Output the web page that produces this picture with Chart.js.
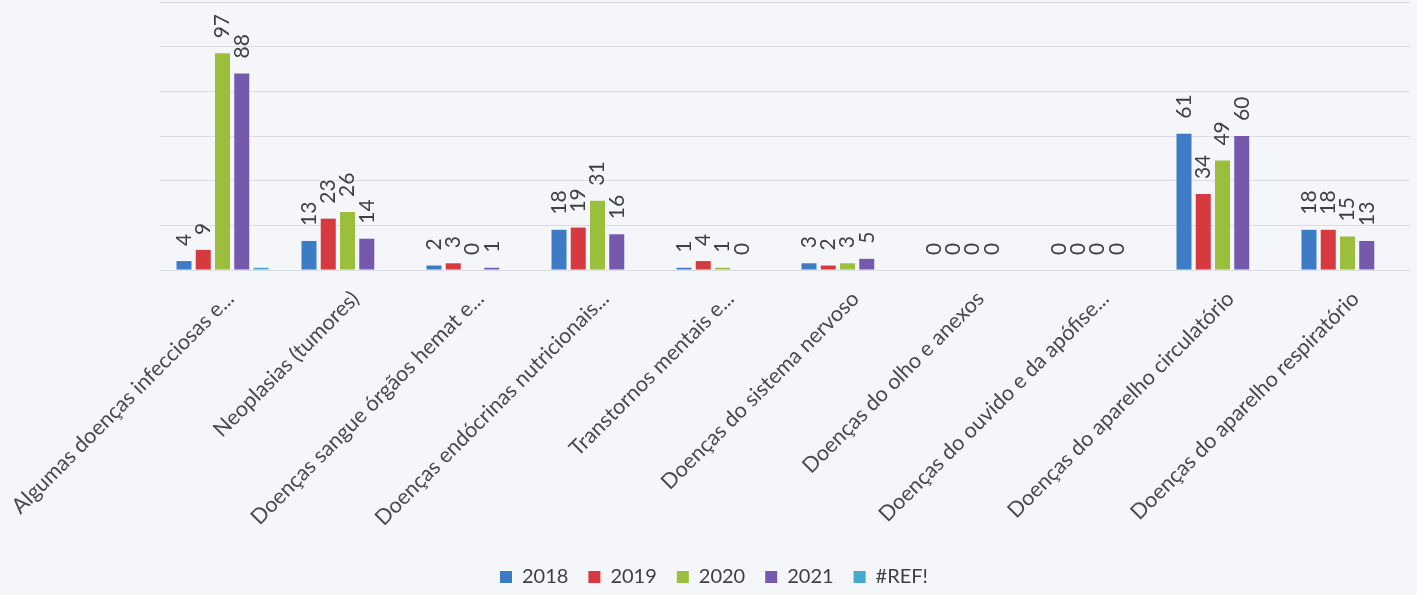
<!DOCTYPE html>
<html><head><meta charset="utf-8">
<script src="https://cdn.jsdelivr.net/npm/chart.js@4.4.1/dist/chart.umd.min.js"></script>
<style>html,body{margin:0;padding:0;background:#f4f6fa;} #wrap{width:1417px;height:595px;}</style>
</head><body><div id="wrap"><canvas id="c" width="1417" height="595"></canvas></div>
<script>
const categories = [
  "Algumas doenças infecciosas e...",
  "Neoplasias (tumores)",
  "Doenças sangue órgãos hemat e...",
  "Doenças endócrinas nutricionais...",
  "Transtornos mentais e...",
  "Doenças do sistema nervoso",
  "Doenças do olho e anexos",
  "Doenças do ouvido e da apófise...",
  "Doenças do aparelho circulatório",
  "Doenças do aparelho respiratório"
];
const seriesNames = ["2018", "2019", "2020", "2021", "#REF!"];
const v2018 = [4, 13, 2, 18, 1, 3, 0, 0, 61, 18];
const v2019 = [9, 23, 3, 19, 4, 2, 0, 0, 34, 18];
const v2020 = [97, 26, 0, 31, 1, 3, 0, 0, 49, 15];
const v2021 = [88, 14, 1, 16, 0, 5, 0, 0, 60, 13];
const vRef  = [1, 0, 0, 0, 0, 0, 0, 0, 0, 0];
const yTicks = [0, 20, 40, 60, 80, 100, 120];

const colors = ["#3d7cc4", "#d63a3e", "#9bbf3c", "#7559ad", "#45a9d0"];
const PAD_B = 7, BASE_Y = 270, LEGEND_SHIFT_Y = 9, LEGEND_SHIFT_X = 9;

const valueLabels = {
  id: 'valueLabels',
  afterDatasetsDraw(chart) {
    const ctx = chart.ctx;
    chart.data.datasets.forEach((ds, i) => {
      if (ds.hideLabels) return;
      const meta = chart.getDatasetMeta(i);
      meta.data.forEach((bar, j) => {
        const v = ds.data[j];
        if (v == null) return;
        ctx.save();
        ctx.translate(bar.x, bar.y - 15);
        ctx.rotate(-Math.PI / 2);
        ctx.font = '21px Lato';
        ctx.fillStyle = '#404040';
        ctx.textAlign = 'left';
        ctx.textBaseline = 'middle';
        ctx.fillText(String(v), 0, 0);
        ctx.restore();
      });
    });
  }
};

const bg = {
  id: 'bg',
  beforeDraw(chart) {
    const ctx = chart.ctx;
    ctx.save();
    ctx.fillStyle = '#f4f6fa';
    ctx.fillRect(0, 0, chart.width, chart.height);
    ctx.restore();
  }
};

const legendShift = {
  id: 'legendShift',
  afterLayout(chart) {
    const lg = chart.legend;
    if (lg) {
      lg.top += LEGEND_SHIFT_Y; lg.bottom += LEGEND_SHIFT_Y;
      lg.left += LEGEND_SHIFT_X; lg.right += LEGEND_SHIFT_X;
    }
  }
};

const data = [v2018, v2019, v2020, v2021, vRef];
new Chart(document.getElementById('c'), {
  type: 'bar',
  data: {
    labels: categories,
    datasets: seriesNames.map((n, i) => ({
      label: n,
      data: data[i],
      backgroundColor: colors[i],
      borderWidth: 0,
      barPercentage: 0.78,
      categoryPercentage: 0.77,
      hideLabels: n === "#REF!"
    }))
  },
  options: {
    responsive: false,
    animation: false,
    devicePixelRatio: 1,
    layout: { padding: { top: 2, right: 7, bottom: PAD_B, left: 0 } },
    plugins: {
      tooltip: { enabled: false },
      legend: {
        position: 'bottom',
        labels: {
          boxWidth: 12, boxHeight: 12, padding: 20,
          font: { family: 'Lato', size: 20 },
          color: '#404040'
        }
      }
    },
    scales: {
      x: {
        grid: { display: false },
        border: { display: false },
        ticks: {
          autoSkip: false, minRotation: 45, maxRotation: 45,
          font: { family: 'Lato', size: 21.5 }, color: '#4a4a4a',
          padding: 8, labelOffset: 8
        },
        afterFit(s) {
          const lh = s.chart.legend ? s.chart.legend.height : 40;
          s.height = 595 - PAD_B - lh - BASE_Y;
          s.paddingLeft = 0; s.paddingRight = 0;
        }
      },
      y: {
        min: 0, max: 120,
        afterBuildTicks(s) { s.ticks = yTicks.map(v => ({ value: v })); },
        ticks: { display: false },
        grid: { color: '#d9dce2', drawTicks: false, lineWidth: 1 },
        border: { display: false },
        afterFit(s) { s.width = 160; }
      }
    }
  },
  plugins: [bg, legendShift, valueLabels]
});
</script>
</body></html>
